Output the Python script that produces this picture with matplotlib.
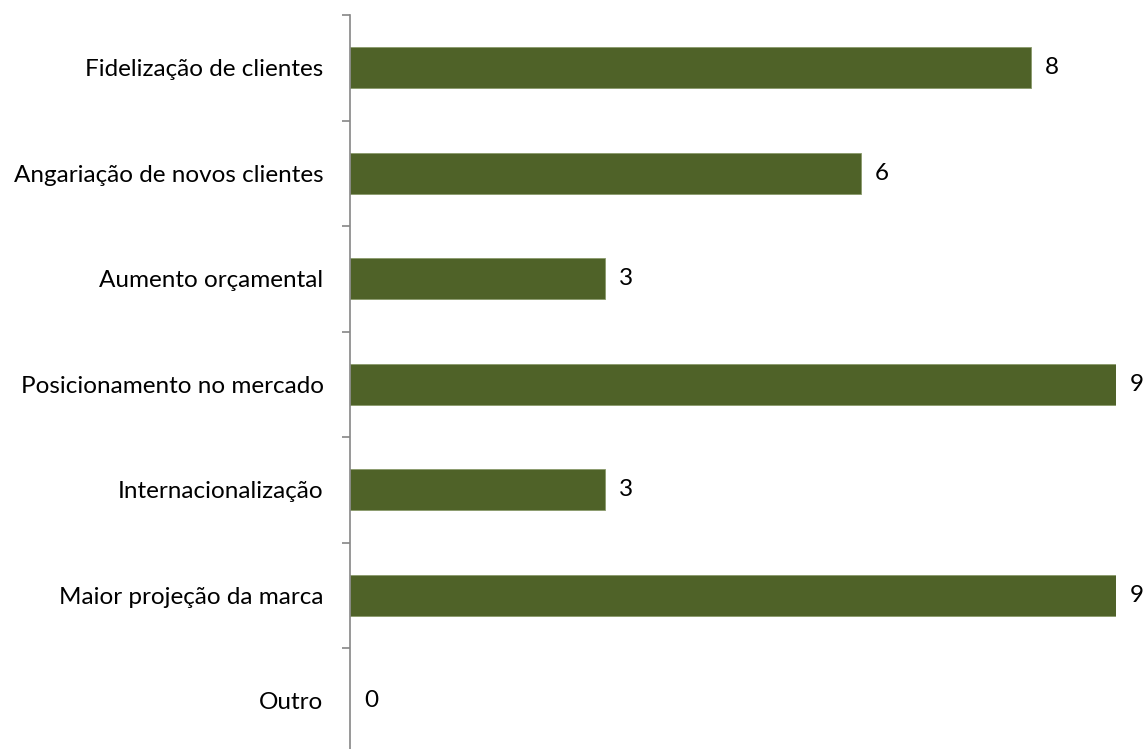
import matplotlib
matplotlib.use("Agg")
import matplotlib.pyplot as plt
import numpy as np

categories = [
    "Fidelização de clientes",
    "Angariação de novos clientes",
    "Aumento orçamental",
    "Posicionamento no mercado",
    "Internacionalização",
    "Maior projeção da marca",
    "Outro",
]
values = [8, 6, 3, 9, 3, 9, 0]

bar_color = "#4F6228"
axis_color = "#868686"
font = ["Lato", "DejaVu Sans"]
fsize = 17.5

W, H, DPI = 1148, 749, 100
fig = plt.figure(figsize=(W / DPI, H / DPI), dpi=DPI)

x0, x1 = 350, 1116
y_top, y_bot = 15, 753.5
ax = fig.add_axes([x0 / W, (H - y_bot) / H, (x1 - x0) / W, (y_bot - y_top) / H])

n = len(categories)
pos = np.arange(n)
edge_w = [0.6 if v > 0 else 0 for v in values]
ax.barh(pos, values, height=0.39, color=bar_color, edgecolor="#8A9A6B", linewidth=edge_w)
ax.set_ylim(n - 0.5, -0.5)
ax.set_xlim(0, 9)

for p, v in zip(pos, values):
    ax.annotate(str(v), (v, p), xytext=(14, 0), textcoords="offset pixels",
                va="center", ha="left", fontsize=fsize, family=font, color="#000000",
                annotation_clip=False)

ax.set_yticks(pos)
ax.set_yticklabels(categories, family=font, fontsize=fsize)
ax.set_yticks(np.arange(n + 1) - 0.5, minor=True)
ax.tick_params(axis="y", which="major", length=0, pad=19)
ax.tick_params(axis="y", which="minor", length=5.5, width=1.2, color=axis_color, direction="out")
ax.set_xticks([])

for s in ["top", "right", "bottom"]:
    ax.spines[s].set_visible(False)
ax.spines["left"].set_color(axis_color)
ax.spines["left"].set_linewidth(1.2)
ax.patch.set_alpha(0)

fig.savefig("out.png", dpi=DPI)
